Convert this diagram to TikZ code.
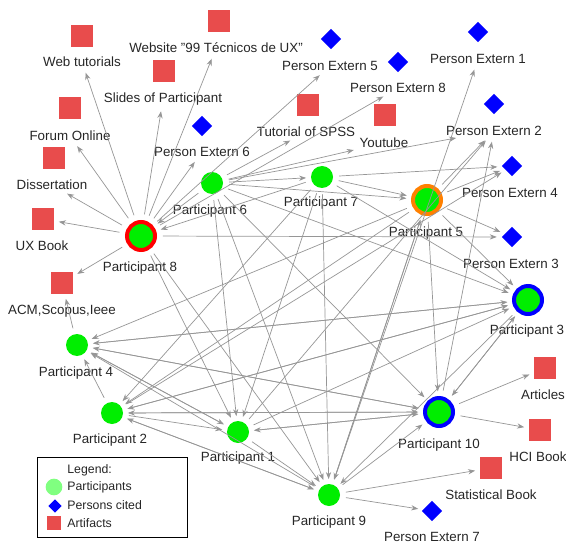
\documentclass[tikz,border=0pt]{standalone}
\usepackage{fontspec}
\setmainfont{Liberation Sans}
\usepackage{tikz}
\usetikzlibrary{shapes.geometric, arrows.meta}

\definecolor{artred}{RGB}{232,76,76}
\definecolor{partgreen}{RGB}{0,238,0}
\definecolor{leggreen}{RGB}{128,255,128}
\definecolor{edgegray}{RGB}{150,150,150}
\definecolor{ringorange}{RGB}{255,128,0}

\begin{document}
\begin{tikzpicture}[x=0.03cm, y=-0.03cm,
    part/.style = {circle, fill=partgreen, minimum size=0.66cm, inner sep=0pt},
    ring/.style = {circle, fill=partgreen, draw=#1, line width=3.4pt, minimum size=0.84cm, inner sep=0pt},
    pers/.style = {diamond, fill=blue, minimum size=0.62cm, inner sep=0pt},
    art/.style = {rectangle, fill=artred, minimum size=0.66cm, inner sep=0pt},
    lbl/.style = {font=\fontsize{11.4}{13}\selectfont, text=black!85, inner sep=1pt},
    edge/.style = {draw=edgegray, line width=0.6pt, -{Stealth[length=6pt, width=4.5pt]}, shorten >=4pt, shorten <=5pt}]
    \useasboundingbox (0,0) rectangle (566,543);

    % artifacts
    \node[art] (webtut) at (82,36) {};
    \node[lbl] (webtut-l) at (82,62) {Web tutorials};
    \node[art] (website) at (219,21) {};
    \node[lbl] (website-l) at (216,48) {Website \symbol{34}99 Técnicos de UX\symbol{34}};
    \node[art] (slides) at (164,71) {};
    \node[lbl] (slides-l) at (163,99) {Slides of Participant};
    \node[art] (forum) at (70,108) {};
    \node[lbl] (forum-l) at (70,136) {Forum Online};
    \node[art] (diss) at (54,158) {};
    \node[lbl] (diss-l) at (52,185) {Dissertation};
    \node[art] (uxbook) at (43,219) {};
    \node[lbl] (uxbook-l) at (42,246) {UX Book};
    \node[art] (acm) at (62,283) {};
    \node[lbl] (acm-l) at (62,311) {ACM,Scopus,Ieee};
    \node[art] (spss) at (308,105) {};
    \node[lbl] (spss-l) at (306,132) {Tutorial of SPSS};
    \node[art] (youtube) at (385,115) {};
    \node[lbl] (youtube-l) at (384,143) {Youtube};
    \node[art] (articles) at (545,368) {};
    \node[lbl] (articles-l) at (543,395) {Articles};
    \node[art] (hcibook) at (540,430) {};
    \node[lbl] (hcibook-l) at (538,457) {HCI Book};
    \node[art] (statbook) at (491,468) {};
    \node[lbl] (statbook-l) at (491,495) {Statistical Book};

    % persons cited
    \node[pers] (pe1) at (478,32) {};
    \node[lbl] (pe1-l) at (478,59) {Person Extern 1};
    \node[pers] (pe2) at (494,104) {};
    \node[lbl] (pe2-l) at (494,131) {Person Extern 2};
    \node[pers] (pe3) at (512,237) {};
    \node[lbl] (pe3-l) at (511,264) {Person Extern 3};
    \node[pers] (pe4) at (512,166) {};
    \node[lbl] (pe4-l) at (510,193) {Person Extern 4};
    \node[pers] (pe5) at (331,39) {};
    \node[lbl] (pe5-l) at (330,66) {Person Extern 5};
    \node[pers] (pe6) at (202,126) {};
    \node[lbl] (pe6-l) at (202,152) {Person Extern 6};
    \node[pers] (pe7) at (432,511) {};
    \node[lbl] (pe7-l) at (432,537) {Person Extern 7};
    \node[pers] (pe8) at (398,62) {};
    \node[lbl] (pe8-l) at (398,88) {Person Extern 8};

    % participants
    \node[part] (p1) at (238,432) {};
    \node[lbl] (p1-l) at (238,458) {Participant 1};
    \node[part] (p2) at (112,413) {};
    \node[lbl] (p2-l) at (110,440) {Participant 2};
    \node[ring=blue] (p3) at (528,300) {};
    \node[lbl] (p3-l) at (527,331) {Participant 3};
    \node[part] (p4) at (77,345) {};
    \node[lbl] (p4-l) at (76,373) {Participant 4};
    \node[ring=ringorange] (p5) at (427,200) {};
    \node[lbl] (p5-l) at (426,233) {Participant 5};
    \node[part] (p6) at (212,183) {};
    \node[lbl] (p6-l) at (210,211) {Participant 6};
    \node[part] (p7) at (322,177) {};
    \node[lbl] (p7-l) at (321,203) {Participant 7};
    \node[ring=red] (p8) at (141,236) {};
    \node[lbl] (p8-l) at (140,268) {Participant 8};
    \node[part] (p9) at (329,495) {};
    \node[lbl] (p9-l) at (329,522) {Participant 9};
    \node[ring=blue] (p10) at (439,412) {};
    \node[lbl] (p10-l) at (439,445) {Participant 10};

    % edges from participant 8
    \draw[edge] (p8) -- (webtut-l);
    \draw[edge] (p8) -- (website-l);
    \draw[edge] (p8) -- (slides-l);
    \draw[edge] (p8) -- (forum-l);
    \draw[edge] (p8) -- (diss-l);
    \draw[edge] (p8) -- (uxbook);
    \draw[edge] (p8) -- (acm);
    \draw[edge] (p8) -- (pe6-l);
    \draw[edge] (p8) -- (pe5-l);
    \draw[edge] (p8) -- (pe8-l);
    \draw[edge] (p8) -- (pe3);
    \draw[edge] (p8) -- (p9);
    \draw[edge] (p8) -- (p1);

    % edges from participant 6
    \draw[edge] (p6) -- (p8);
    \draw[edge] (p6) -- (p7);
    \draw[edge] (p6) -- (spss-l);
    \draw[edge] (p6) -- (youtube-l);
    \draw[edge] (p6) -- (pe2-l);
    \draw[edge] (p6) -- (p5);
    \draw[edge] (p6) -- (p3);
    \draw[edge] (p6) -- (p1);
    \draw[edge] (p6) -- (p9);
    \draw[edge] (p6) -- (p10);

    % edges from participant 7
    \draw[edge] (p7) -- (p8);
    \draw[edge] (p7) -- (pe4);
    \draw[edge] (p7) -- (p5);
    \draw[edge] (p7) -- (p3);
    \draw[edge] (p7) -- (p9);
    \draw[edge] (p7) -- (p1);
    \draw[edge] (p7) -- (p2);

    % edges from participant 5
    \draw[edge] (p5) -- (pe4);
    \draw[edge] (p5) -- (pe3);
    \draw[edge] (p5) -- (pe2-l);
    \draw[edge] (p5) -- (p3);
    \draw[edge] (p5) -- (p10);
    \draw[edge] (p5) -- (p9);
    \draw[edge] (p5) -- (p4);
    \draw[edge] (p5) -- (p2);

    % edges from participant 3
    \draw[edge] (p3) -- (p10);
    \draw[edge] (p3) -- (p4);
    \draw[edge] (p3) -- (p2);
    \draw[edge] (p3) -- (p9);

    % edges from participant 4
    \draw[edge] (p4) -- (acm);
    \draw[edge] (p4) -- (p3);
    \draw[edge] (p4) -- (p10);
    \draw[edge] (p4) -- (p1);

    % edges from participant 2
    \draw[edge] (p2) -- (p1);
    \draw[edge] (p2) -- (p10);
    \draw[edge] (p2) -- (p9);
    \draw[edge] (p2) -- (p3);
    \draw[edge] (p2) -- (p4);
    \draw[edge] (p2) -- (pe4);

    % edges from participant 1
    \draw[edge] (p1) -- (p9);
    \draw[edge] (p1) -- (p10);
    \draw[edge] (p1) -- (p4);
    \draw[edge] (p1) -- (p3);
    \draw[edge] (p1) -- (pe2-l);

    % edges from participant 9
    \draw[edge] (p9) -- (statbook);
    \draw[edge] (p9) -- (pe7);
    \draw[edge] (p9) -- (p10);
    \draw[edge] (p9) -- (pe1-l);
    \draw[edge] (p9) -- (p4);
    \draw[edge] (p9) -- (p2);
    \draw[edge] (p9) -- (p5);

    % edges from participant 10
    \draw[edge] (p10) -- (articles);
    \draw[edge] (p10) -- (hcibook);
    \draw[edge] (p10) -- (p3);
    \draw[edge] (p10) -- (p1);
    \draw[edge] (p10) -- (p2);
    \draw[edge] (p10) -- (p4);
    \draw[edge] (p10) -- (pe2-l);

    % legend
    \node[draw=black, line width=1.6pt, fill=white, minimum width=4.5cm, minimum height=2.4cm, inner sep=0pt] (legend) at (112.5,497.5) {};
    \node[lbl, anchor=west, font=\fontsize{10.5}{12}\selectfont] (leg-t) at (66,470) {Legend:};
    \node[circle, fill=leggreen, minimum size=0.5cm, inner sep=0pt] (leg-c) at (54,487) {};
    \node[lbl, anchor=west, font=\fontsize{10.5}{12}\selectfont] (leg-ct) at (66,487) {Participants};
    \node[diamond, fill=blue, minimum size=0.4cm, inner sep=0pt] (leg-d) at (55,506) {};
    \node[lbl, anchor=west, font=\fontsize{10.5}{12}\selectfont] (leg-dt) at (66,505) {Persons cited};
    \node[rectangle, fill=artred, minimum size=0.44cm, inner sep=0pt] (leg-s) at (54,523) {};
    \node[lbl, anchor=west, font=\fontsize{10.5}{12}\selectfont] (leg-st) at (66,523) {Artifacts};
\end{tikzpicture}
\end{document}
